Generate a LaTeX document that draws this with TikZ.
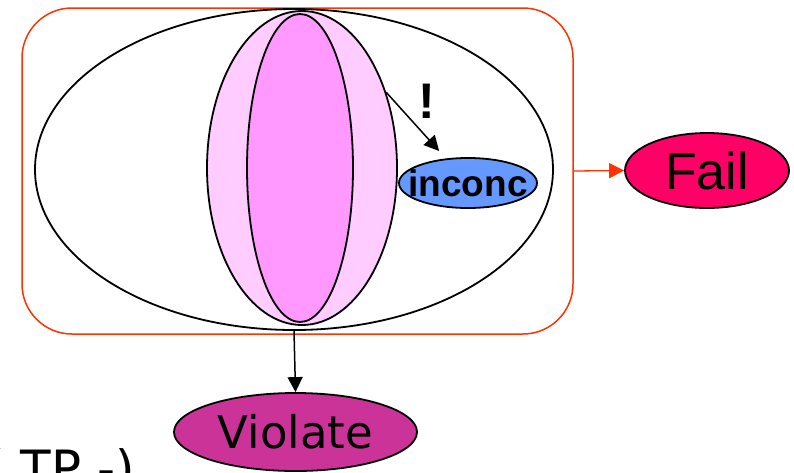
\documentclass[tikz,border=0pt]{standalone}
\usepackage{fontspec}
\setmainfont{Liberation Sans}
\newfontfamily\comicfont{DejaVu Sans}
\usetikzlibrary{arrows.meta,shapes.geometric}
\definecolor{rectred}{HTML}{FF3300}
\definecolor{failcol}{HTML}{FF0066}
\definecolor{inccol}{HTML}{6699FF}
\definecolor{violcol}{HTML}{CC3399}
\definecolor{pinkL}{HTML}{FFCCFF}
\definecolor{pinkD}{HTML}{FF99FF}
\tikzset{
  ell/.style={ellipse, draw=black, line width=1.8pt, inner sep=0pt},
  arr/.style={line width=1.5pt, -{Triangle[length=15pt,width=15pt]}},
}
\begin{document}
\begin{tikzpicture}[x=1pt,y=-1pt]
\useasboundingbox (0,0) rectangle (794,472);
\clip (0,0) rectangle (794,472);
\fill[white] (0,0) rectangle (794,472);
% outer rounded box
\node[draw=rectred, line width=1.5pt, rounded corners=50pt, minimum width=551pt, minimum height=326pt, inner sep=0pt] (box) at (297.5,171) {};
% big ellipse
\node[ell, minimum width=518pt, minimum height=321pt] (big) at (294,169.5) {};
% pink ellipses
\node[ell, fill=pinkL, minimum width=190pt, minimum height=314pt] (pl) at (302,168) {};
\node[ell, fill=pinkD, minimum width=106pt, minimum height=308pt] (pd) at (300,168) {};
% inconc
\node[ell, fill=inccol, minimum width=138pt, minimum height=50pt,
  label={[font=\fontsize{37}{40}\selectfont\bfseries]center:inconc}] (inc) at (468,183) {};
% Fail
\node[ell, fill=failcol, minimum width=164pt, minimum height=75pt,
  label={[font=\fontsize{52}{56}\selectfont]center:Fail}] (fail) at (707,170.5) {};
% Violate
\node[ell, fill=violcol, minimum width=243pt, minimum height=78pt,
  label={[font=\comicfont\fontsize{45}{50}\selectfont]center:Violate}] (viol) at (295.5,432) {};
% arrows
\draw[arr] (pl.42.5) -- (inc) [shorten >=10pt];
\node[font=\fontsize{50}{54}\selectfont\bfseries] (bang) at (427,101) {!};
\draw[arr, draw=rectred, fill=rectred, line width=1.3pt] (box.east) -- (fail.west);
\draw[arr] (big.south) -- (viol.north);
% bottom-left partial text (cut off by the lower edge, as in the reference)
\node[anchor=base west, inner sep=0pt, font=\comicfont\fontsize{50}{54}\selectfont] (note) at (-15,486) {( TP -)};
\end{tikzpicture}
\end{document}
